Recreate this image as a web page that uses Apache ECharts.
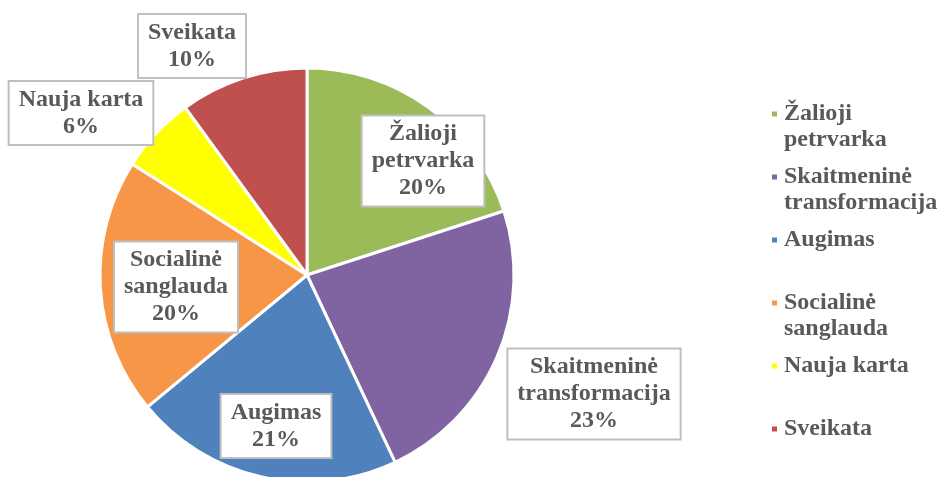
<!DOCTYPE html>
<html>
<head>
<meta charset="utf-8">
<script src="https://cdn.jsdelivr.net/npm/echarts@6/dist/echarts.min.js"></script>
<style>
  html, body { margin: 0; padding: 0; background: #fff; }
  #chart { width: 939px; height: 477px; }
</style>
</head>
<body>
<div id="chart"></div>
<script>
  // programos dalys (pavadinimai su eilutės lūžiais kaip paveiksle)
  const names = [
    'Žalioji\npetrvarka',
    'Skaitmeninė\ntransformacija',
    'Augimas',
    'Socialinė\nsanglauda',
    'Nauja karta',
    'Sveikata'
  ]
  const values = [20, 23, 21, 20, 6, 10]
  const colors = ['#9BBB59', '#8064A2', '#4F81BD', '#F79646', '#FFFF00', '#C0504D']

  // etikečių centrai (x, y) pikseliais
  const labelPos = [
    [423, 161],
    [594, 394],
    [276, 426],
    [176, 287],
    [81, 113],
    [192, 46]
  ]

  const font = 'Liberation Serif, Times New Roman, serif'
  const chart = echarts.init(document.getElementById('chart'))

  // legendoje pirma eilutė turi stovėti prie žymeklio, todėl pridedama tuščia eilutė viršuje
  const legendText = name =>
    ' \n' + (name.indexOf('\n') >= 0 ? name : name + '\n ')

  const option = {
    animation: false,
    color: colors,
    legend: {
      orient: 'vertical',
      left: 770,
      top: 75,
      padding: 0,
      itemGap: -15,
      itemWidth: 7,
      itemHeight: 7,
      icon: 'rect',
      data: names,
      formatter: legendText,
      textStyle: {
        fontFamily: font,
        fontSize: 24,
        fontWeight: 'bold',
        color: '#595959',
        lineHeight: 26,
        padding: [0, 0, 0, 1],
        backgroundColor: 'rgba(0,0,0,0)'
      }
    },
    series: [
      {
        type: 'pie',
        center: [307, 275],
        radius: 207,
        startAngle: 90,
        clockwise: true,
        avoidLabelOverlap: false,
        itemStyle: {
          borderColor: '#fff',
          borderWidth: 3
        },
        label: {
          show: true,
          position: 'outside',
          formatter: '{b}\n{d}%',
          fontFamily: font,
          fontSize: 24,
          fontWeight: 'bold',
          color: '#595959',
          lineHeight: 27,
          align: 'center',
          backgroundColor: '#fff',
          borderColor: '#bfbfbf',
          borderWidth: 2,
          padding: [5, 9, 3, 9]
        },
        labelLine: { show: false },
        labelLayout: params => ({
          x: labelPos[params.dataIndex][0],
          y: labelPos[params.dataIndex][1],
          align: 'center',
          verticalAlign: 'middle'
        }),
        emphasis: { scale: false },
        data: names.map((n, i) => ({ name: n, value: values[i] }))
      }
    ]
  }

  chart.setOption(option)
</script>
</body>
</html>
